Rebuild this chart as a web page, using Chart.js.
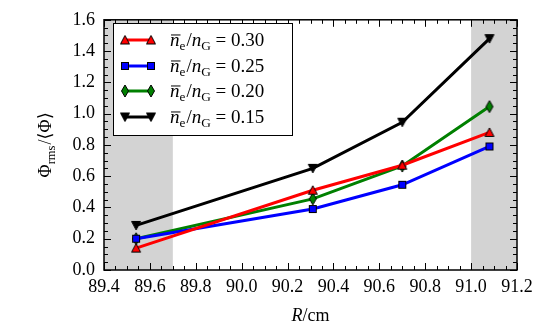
<!DOCTYPE html>
<html><head><meta charset="utf-8">
<script src="https://cdn.jsdelivr.net/npm/chart.js@4"></script>
<style>html,body{margin:0;padding:0;background:#fff}#wrap{width:544px;height:336px;position:relative}</style>
</head><body><div id="wrap"><canvas id="c" width="544" height="336"></canvas></div>
<script>
const radius = [89.54, 90.31, 90.70, 91.08];
const ratios = ['0.30', '0.25', '0.20', '0.15'];
const seriesA = [0.14, 0.51, 0.67, 0.88];   // n/nG = 0.30
const seriesB = [0.20, 0.39, 0.545, 0.79];  // n/nG = 0.25
const seriesC = [0.20, 0.455, 0.665, 1.045];// n/nG = 0.20
const seriesD = [0.285, 0.65, 0.945, 1.48]; // n/nG = 0.15
const shaded = [[89.4, 89.7], [91.0, 91.2]];
const xTicks = [89.4, 89.6, 89.8, 90.0, 90.2, 90.4, 90.6, 90.8, 91.0, 91.2];
const yTicks = [0.0, 0.2, 0.4, 0.6, 0.8, 1.0, 1.2, 1.4, 1.6];

const FONT = '"Liberation Serif", "DejaVu Serif", serif';

function mk(w, h, draw) {
  const c = document.createElement('canvas'); c.width = w; c.height = h;
  const g = c.getContext('2d'); draw(g, w, h); return c;
}
const diamond = mk(10, 14, (g, w, h) => {
  g.beginPath(); g.moveTo(w/2, 1); g.lineTo(w - 1.5, h/2); g.lineTo(w/2, h - 1); g.lineTo(1.5, h/2); g.closePath();
  g.fillStyle = '#008000'; g.fill(); g.strokeStyle = '#000'; g.lineWidth = 1; g.stroke();
});
const triUp = mk(12, 11, (g, w, h) => {
  g.beginPath(); g.moveTo(w/2, 1); g.lineTo(w - 1.5, h - 1.5); g.lineTo(1.5, h - 1.5); g.closePath();
  g.fillStyle = '#ff0000'; g.fill(); g.strokeStyle = '#000'; g.lineWidth = 1; g.stroke();
});
const triDown = mk(12, 11, (g, w, h) => {
  g.beginPath(); g.moveTo(1.5, 1.5); g.lineTo(w - 1.5, 1.5); g.lineTo(w/2, h - 1); g.closePath();
  g.fillStyle = '#000'; g.fill(); g.strokeStyle = '#000'; g.lineWidth = 1; g.stroke();
});
const square = mk(10, 10, (g, w, h) => {
  g.fillStyle = '#0000ff'; g.fillRect(1, 1, 8, 8); g.strokeStyle = '#000'; g.lineWidth = 1; g.strokeRect(1.5, 1.5, 7, 7);
});

const sets = [
  {data: seriesA, color: '#ff0000', marker: triUp},
  {data: seriesB, color: '#0000ff', marker: square},
  {data: seriesC, color: '#008000', marker: diamond},
  {data: seriesD, color: '#000000', marker: triDown},
];

function richText(ctx, x, y, parts, size) {
  let cx = x;
  for (const p of parts) {
    const s = p.sub ? size * 0.7 : size;
    ctx.font = (p.italic ? 'italic ' : '') + s + 'px ' + FONT;
    const w = ctx.measureText(p.t).width;
    const yy = y + (p.sub ? size * 0.22 : 0);
    ctx.fillText(p.t, cx, yy);
    if (p.over) {
      ctx.beginPath(); ctx.lineWidth = 1; ctx.moveTo(cx + 1, yy - size * 0.58); ctx.lineTo(cx + w + 1, yy - size * 0.58); ctx.stroke();
    }
    cx += w + (p.gap || 0);
  }
  return cx - x;
}
function measureRich(ctx, parts, size) {
  let t = 0;
  for (const p of parts) {
    const s = p.sub ? size * 0.7 : size;
    ctx.font = (p.italic ? 'italic ' : '') + s + 'px ' + FONT;
    t += ctx.measureText(p.t).width + (p.gap || 0);
  }
  return t;
}

const decor = {
  id: 'decor',
  beforeDatasetsDraw(chart) {
    const {ctx, chartArea: a, scales: {x}} = chart;
    ctx.save();
    ctx.fillStyle = '#d3d3d3';
    for (const [s, e] of shaded) {
      const x0 = x.getPixelForValue(s), x1 = x.getPixelForValue(e);
      ctx.fillRect(x0, a.top, x1 - x0, a.bottom - a.top);
    }
    ctx.restore();
  },
  afterDatasetsDraw(chart) {
    const {ctx, chartArea: a, scales: {x, y}} = chart;
    ctx.save();
    ctx.strokeStyle = '#000'; ctx.lineWidth = 1;
    ctx.beginPath();
    for (let k = 0; k <= 36; k++) {
      const v = 89.4 + k * 0.05;
      const len = k % 4 === 0 ? 7 : 4;
      const px = Math.round(x.getPixelForValue(v)) + 0.5;
      ctx.moveTo(px, a.bottom); ctx.lineTo(px, a.bottom - len);
      ctx.moveTo(px, a.top); ctx.lineTo(px, a.top + len);
    }
    for (let k = 0; k <= 32; k++) {
      const v = k * 0.05;
      const len = k % 4 === 0 ? 7 : 4;
      const py = Math.round(y.getPixelForValue(v)) + 0.5;
      ctx.moveTo(a.left, py); ctx.lineTo(a.left + len, py);
      ctx.moveTo(a.right, py); ctx.lineTo(a.right - len, py);
    }
    ctx.stroke();
    ctx.lineWidth = 1.5;
    ctx.strokeRect(a.left, a.top, a.right - a.left, a.bottom - a.top);
    const lx = 113, ly = 23, lw = 179, lh = 112;
    ctx.fillStyle = '#fff'; ctx.fillRect(lx, ly, lw, lh);
    ctx.lineWidth = 1; ctx.strokeStyle = '#000';
    ctx.strokeRect(lx + 0.5, ly + 0.5, lw, lh);
    const rows = [40, 66, 91, 117];
    sets.forEach((s, i) => {
      const ry = rows[i];
      ctx.strokeStyle = s.color; ctx.lineWidth = 3;
      ctx.beginPath(); ctx.moveTo(125, ry); ctx.lineTo(151, ry); ctx.stroke();
      for (const mx of [125, 151]) ctx.drawImage(s.marker, mx - s.marker.width/2, ry - s.marker.height/2);
      ctx.fillStyle = '#000'; ctx.strokeStyle = '#000'; ctx.textBaseline = 'alphabetic'; ctx.textAlign = 'left';
      richText(ctx, 170, ry + 6, [
        {t: 'n', italic: true, over: true},
        {t: 'e', sub: true, gap: 1},
        {t: '/'},
        {t: 'n', italic: true},
        {t: 'G', sub: true},
        {t: ' = ' + ratios[i]}
      ], 19);
    });
    ctx.fillStyle = '#000'; ctx.textBaseline = 'alphabetic'; ctx.textAlign = 'left';
    const xt = [{t: 'R', italic: true}, {t: '/cm'}];
    const wx = measureRich(ctx, xt, 18);
    richText(ctx, (a.left + a.right) / 2 - wx / 2, 321, xt, 18);
    const yt = [{t: 'Φ'}, {t: 'rms', sub: true, gap: 1}, {t: '/⟨Φ⟩'}];
    const wy = measureRich(ctx, yt, 18);
    ctx.translate(51, (a.top + a.bottom) / 2);
    ctx.rotate(-Math.PI / 2);
    richText(ctx, -wy / 2, 0, yt, 18);
    ctx.restore();
  }
};

new Chart(document.getElementById('c'), {
  type: 'line',
  data: {
    datasets: sets.map((s, i) => ({
      label: ratios[i],
      data: radius.map((r, j) => ({x: r, y: s.data[j]})),
      borderColor: s.color,
      backgroundColor: s.color,
      borderWidth: 3,
      pointStyle: s.marker,
      pointRadius: 5,
      pointHoverRadius: 5,
      tension: 0,
      fill: false
    }))
  },
  options: {
    responsive: false,
    animation: false,
    events: [],
    layout: {padding: {top: 16, right: 27, left: 0, bottom: 0}},
    plugins: {legend: {display: false}, tooltip: {enabled: false}},
    scales: {
      x: {
        type: 'linear', min: 89.4, max: 91.2,
        afterBuildTicks: sc => { sc.ticks = xTicks.map(v => ({value: v})); },
        afterFit: sc => { sc.height = 66; },
        grid: {display: false, drawTicks: false},
        border: {display: false},
        ticks: {color: '#000', font: {family: FONT, size: 18}, padding: 6, maxRotation: 0, autoSkip: false,
                callback: v => Number(v).toFixed(1)}
      },
      y: {
        type: 'linear', min: 0, max: 1.6,
        afterBuildTicks: sc => { sc.ticks = yTicks.map(v => ({value: v})); },
        afterFit: sc => { sc.width = 104; },
        grid: {display: false, drawTicks: false},
        border: {display: false},
        ticks: {color: '#000', font: {family: FONT, size: 18}, padding: 9, autoSkip: false,
                callback: v => Number(v).toFixed(1)}
      }
    }
  },
  plugins: [decor]
});
</script></body></html>
